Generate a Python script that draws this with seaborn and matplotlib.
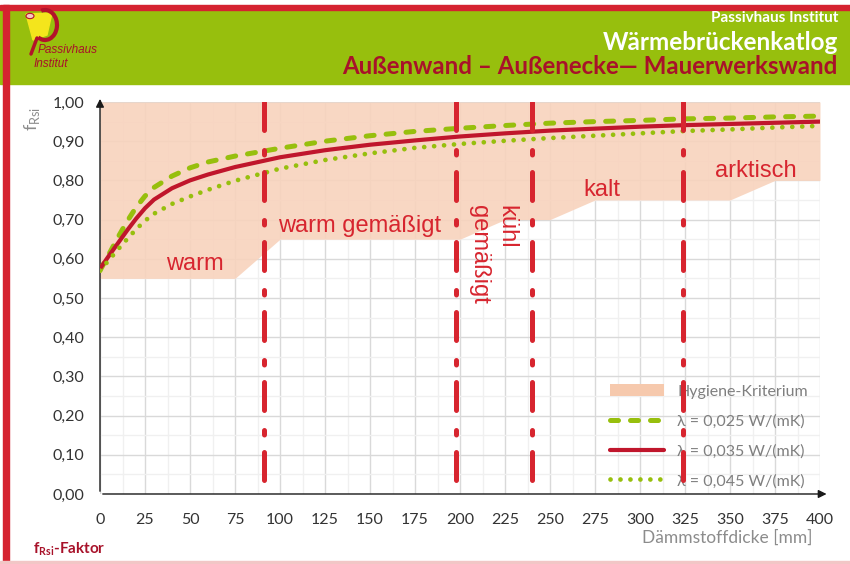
import numpy as np
import pandas as pd
import seaborn as sns
import matplotlib.pyplot as plt
import matplotlib.patches as mpatches
from matplotlib.lines import Line2D

# Daten: fRsi-Faktor über Dämmstoffdicke (mm)
daemm = [0, 5, 10, 15, 20, 25, 30, 40, 50, 60, 75, 100, 125, 150, 175, 200, 225, 250, 275, 300, 325, 350, 375, 400]
f_025 = [0.570, 0.612, 0.655, 0.695, 0.731, 0.760, 0.782, 0.811, 0.832, 0.847, 0.862, 0.882, 0.900, 0.914, 0.925, 0.933, 0.940, 0.946, 0.950, 0.953, 0.957, 0.959, 0.962, 0.964]
f_035 = [0.575, 0.608, 0.640, 0.672, 0.702, 0.729, 0.751, 0.780, 0.800, 0.815, 0.834, 0.859, 0.877, 0.891, 0.902, 0.912, 0.920, 0.927, 0.932, 0.937, 0.941, 0.944, 0.947, 0.950]
f_045 = [0.570, 0.597, 0.624, 0.650, 0.675, 0.697, 0.715, 0.740, 0.759, 0.776, 0.799, 0.830, 0.852, 0.869, 0.883, 0.893, 0.901, 0.908, 0.914, 0.920, 0.926, 0.930, 0.935, 0.939]

# Hygiene-Kriterium (untere Grenze)
hyg_x = [0, 75, 100, 200, 225, 250, 275, 350, 375, 400]
hyg_y = [0.55, 0.55, 0.65, 0.65, 0.70, 0.70, 0.75, 0.75, 0.80, 0.80]

# Klimazonen-Grenzen und Beschriftungen
zonen_x = [91, 198, 240, 324]
zonen_text = ['warm', 'warm gemäßigt', 'kühl\ngemäßigt', 'kalt', 'arktisch']

x_ticks = [0, 25, 50, 75, 100, 125, 150, 175, 200, 225, 250, 275, 300, 325, 350, 375, 400]
y_ticks = [0.0, 0.1, 0.2, 0.3, 0.4, 0.5, 0.6, 0.7, 0.8, 0.9, 1.0]
y_labels = [f'{v:.2f}'.replace('.', ',') for v in y_ticks]

legende = ['Hygiene-Kriterium', 'λ = 0,025 W/(mK)', 'λ = 0,035 W/(mK)', 'λ = 0,045 W/(mK)']

GRUEN = '#97bf0d'
ROT = '#c0162c'
ROT_Z = '#d7252f'
DUNKELROT = '#a8122a'
ROSA = '#f8d3bd'

sns.set_style('white')
plt.rcParams['font.family'] = ['Lato', 'DejaVu Sans']
plt.rcParams['mathtext.fontset'] = 'custom'
plt.rcParams['mathtext.rm'] = 'Lato'
plt.rcParams['mathtext.bf'] = 'Lato:bold'

df = pd.DataFrame({'d': daemm, 'f025': f_025, 'f035': f_035, 'f045': f_045})

fig = plt.figure(figsize=(8.5, 5.64), dpi=100)
W, H = 850, 564

# Kopfbereich
fig.patches.append(mpatches.Rectangle((0, 1 - 84 / H), 1, 74 / H, transform=fig.transFigure, color=GRUEN, zorder=0))
fig.patches.append(mpatches.Rectangle((0, 1 - 10 / H), 1, 5 / H, transform=fig.transFigure, color='#d52330', zorder=1))
fig.patches.append(mpatches.Rectangle((3 / W, 0), 6 / W, 1 - 5 / H, transform=fig.transFigure, color='#d52330', zorder=1))
fig.patches.append(mpatches.Rectangle((0, 0), 1, 3 / H, transform=fig.transFigure, color='#f2c6c6', zorder=1))

# Logo (vereinfacht)
fig.patches.append(mpatches.Polygon([(26 / W, 1 - 14 / H), (52 / W, 1 - 13 / H), (47 / W, 1 - 35 / H), (33 / W, 1 - 40 / H)],
                                    closed=True, transform=fig.transFigure, color='#f4e51c', zorder=2))
fig.patches.append(mpatches.Arc((45 / W, 1 - 25 / H), 24 / W, 30 / H, theta1=-110, theta2=100,
                                transform=fig.transFigure, color='#b3122b', lw=3, zorder=3))
fig.lines.append(Line2D([37 / W, 31 / W], [1 - 38 / H, 1 - 54 / H], transform=fig.transFigure, color='#b3122b', lw=2.5, zorder=3))
fig.patches.append(mpatches.Circle((30 / W, 1 - 16 / H), 4 / W, transform=fig.transFigure, fc='#f6c9c0', ec='#b3122b', lw=0.8, zorder=4))
fig.text(38 / W, 1 - 50 / H, 'Passivhaus', fontsize=8.5, style='italic', color=DUNKELROT, va='center',
         family=['Liberation Sans Narrow', 'Liberation Sans'])
fig.text(34 / W, 1 - 64 / H, 'Institut', fontsize=8.5, style='italic', color=DUNKELROT, va='center',
         family=['Liberation Sans Narrow', 'Liberation Sans'])

fig.text(838 / W, 1 - 18 / H, 'Passivhaus Institut', fontsize=11, fontweight='bold', color='white', ha='right', va='center')
fig.text(838 / W, 1 - 42 / H, 'Wärmebrückenkatlog', fontsize=17.5, fontweight='bold', color='white', ha='right', va='center')
fig.text(838 / W, 1 - 67 / H, 'Außenwand – Außenecke— Mauerwerkswand', fontsize=17.3, fontweight='bold', color=DUNKELROT,
         ha='right', va='center')

ax = fig.add_axes([100 / W, 70 / H, 720 / W, 392 / H])

# Raster
ax.set_xticks(np.arange(0, 401, 12.5), minor=True)
ax.set_yticks(np.arange(0, 1.001, 0.05), minor=True)
ax.grid(which='minor', color='#f0f0f0', lw=1.0, zorder=0)
ax.grid(which='major', color='#d9d9d9', lw=1.0, zorder=0)
ax.set_axisbelow(True)

# Hygiene-Kriterium
ax.fill_between(hyg_x, hyg_y, 1.0, color=ROSA, alpha=0.9, lw=0, zorder=1)

# Kurven
sns.lineplot(data=df, x='d', y='f025', ax=ax, color=GRUEN, lw=3.6, linestyle=(0, (1.6, 2.4)),
             dash_capstyle='round', zorder=4)
sns.lineplot(data=df, x='d', y='f035', ax=ax, color=ROT, lw=3.0, zorder=4)
sns.lineplot(data=df, x='d', y='f045', ax=ax, color=GRUEN, lw=3.4, linestyle=(0, (0.01, 2.1)),
             dash_capstyle='round', zorder=4)

# Klimazonen-Grenzen
for zx in zonen_x:
    ax.plot([zx, zx], [1.0, 0.0], color=ROT_Z, lw=3.6, linestyle=(0, (5.6, 4.0, 0.9, 3.5)),
            dash_capstyle='round', zorder=6)

lab = dict(color=ROT_Z, fontsize=17, family=['Liberation Sans', 'DejaVu Sans'], zorder=5)
ax.text(52.6, 0.571, zonen_text[0], ha='center', va='baseline', **lab)
ax.text(99, 0.669, zonen_text[1], ha='left', va='baseline', **lab)
ax.text(218, 0.738, zonen_text[2], ha='center', va='top', rotation=270, linespacing=1.3, multialignment='left', **lab)
ax.text(279, 0.760, zonen_text[3], ha='center', va='baseline', **lab)
ax.text(364.4, 0.808, zonen_text[4], ha='center', va='baseline', **lab)

ax.set_xlim(0, 400)
ax.set_ylim(0, 1.0)
ax.set_xticks(x_ticks)
ax.set_xticklabels([str(t) for t in x_ticks])
ax.set_yticks(y_ticks)
ax.set_yticklabels(y_labels)
ax.tick_params(axis='both', length=0, labelsize=11.5, labelcolor='#333333')
ax.tick_params(axis='y', pad=11.5)
ax.tick_params(axis='x', pad=14)
ax.set_xlabel('')
ax.set_ylabel('')
for s in ax.spines.values():
    s.set_visible(False)

# Achsenpfeile
ax.annotate('', xy=(0, 1.015), xytext=(0, 0), xycoords='axes fraction',
            arrowprops=dict(arrowstyle='-|>', color='#1a1a1a', lw=1.0, mutation_scale=12), annotation_clip=False)
ax.annotate('', xy=(1.013, 0), xytext=(0, 0), xycoords='axes fraction',
            arrowprops=dict(arrowstyle='-|>', color='#1a1a1a', lw=1.0, mutation_scale=12), annotation_clip=False)

# Legende
handles = [mpatches.Patch(color='#f6c9ad', lw=0),
           Line2D([], [], color=GRUEN, lw=3.6, linestyle=(0, (1.6, 2.4)), dash_capstyle='round'),
           Line2D([], [], color=ROT, lw=3.0),
           Line2D([], [], color=GRUEN, lw=3.4, linestyle=(0, (0.01, 2.1)), dash_capstyle='round')]
leg = ax.legend(handles, legende, loc='lower right', bbox_to_anchor=(1.003, -0.022), frameon=False,
                fontsize=11.5, labelcolor='#7f7f7f', handlelength=3.4, handleheight=0.8, labelspacing=0.95,
                handletextpad=0.8)
leg.set_zorder(3)

# Achsenbeschriftungen
fig.text(32 / W, 1 - 119 / H, r'f$_{\mathrm{Rsi}}$', rotation=90, fontsize=13, color='#8c8c8c', ha='center', va='center')
fig.text(813 / W, 1 - 538 / H, 'Dämmstoffdicke [mm]', fontsize=12.5, color='#8c8c8c', ha='right', va='center')
fig.text(33 / W, 1 - 553 / H, r'f$_{\mathbf{Rsi}}$-Faktor', fontsize=11, fontweight='bold', color=DUNKELROT, ha='left', va='baseline')

fig.savefig('out.png', dpi=100)
